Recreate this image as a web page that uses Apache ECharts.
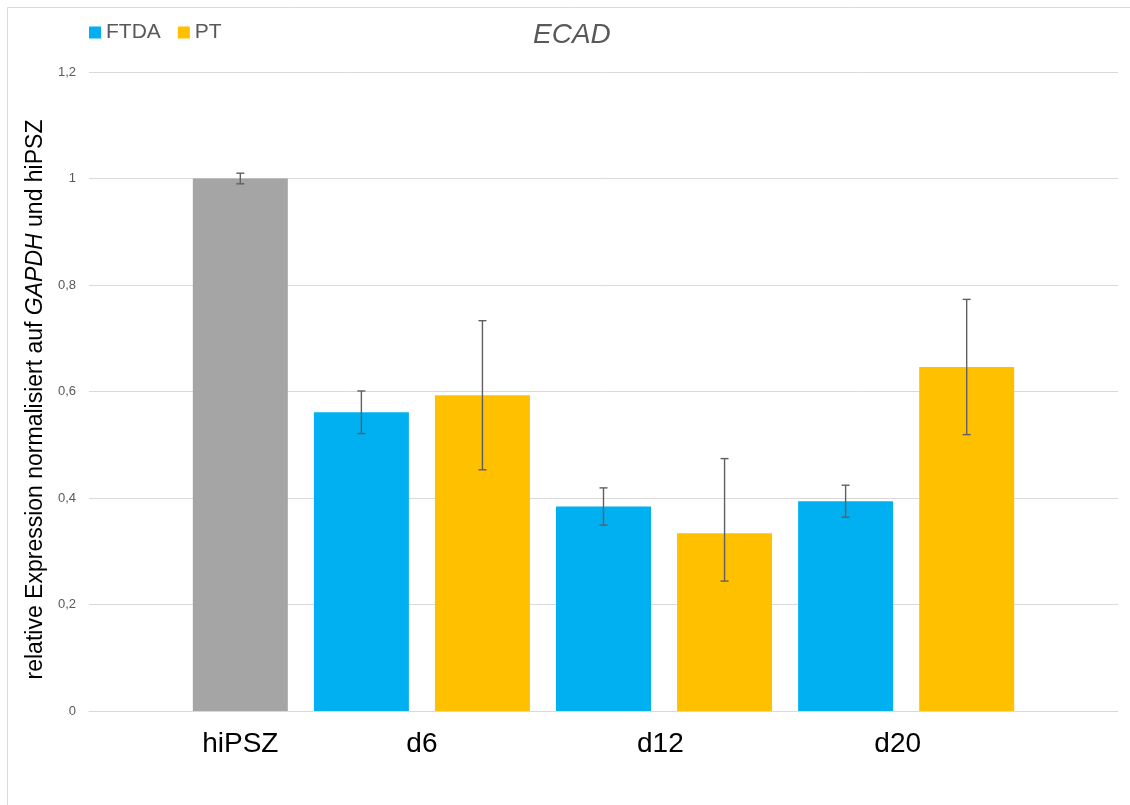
<!DOCTYPE html>
<html>
<head>
<meta charset="utf-8">
<script src="https://cdn.jsdelivr.net/npm/echarts@6/dist/echarts.min.js"></script>
<style>
html,body{margin:0;padding:0;background:#fff;}
#chart{width:1130px;height:805px;}
</style>
</head>
<body>
<div id="chart"></div>
<script>
// ---- data ----
const groupLabels = ['hiPSZ', 'd6', 'd12', 'd20'];
const timepoints = ['d6', 'd12', 'd20'];
const hipszValue = [1.0];
const hipszErrPlus = [0.01];
const hipszErrMinus = [0.01];
const ftdaValues = [0.561, 0.384, 0.394];
const ftdaErrPlus = [0.04, 0.035, 0.03];
const ftdaErrMinus = [0.04, 0.035, 0.03];
const ptValues = [0.593, 0.334, 0.646];
const ptErrPlus = [0.14, 0.14, 0.127];
const ptErrMinus = [0.14, 0.09, 0.127];
const yTicks = [0, 0.2, 0.4, 0.6, 0.8, 1.0, 1.2];

// ---- layout (slot positions on a hidden value axis) ----
const slot0 = 1.25;
const hipszX = [slot0];
const ftdaX = timepoints.map((_, i) => slot0 + 1 + 2 * i);
const ptX = timepoints.map((_, i) => slot0 + 2 + 2 * i);
const labelX = [slot0, slot0 + 1.5, slot0 + 3.47, slot0 + 5.43];

const errData = [];
hipszValue.forEach((v, i) => errData.push([hipszX[i], v - hipszErrMinus[i], v + hipszErrPlus[i]]));
ftdaValues.forEach((v, i) => errData.push([ftdaX[i], v - ftdaErrMinus[i], v + ftdaErrPlus[i]]));
ptValues.forEach((v, i) => errData.push([ptX[i], v - ptErrMinus[i], v + ptErrPlus[i]]));

function labelFor(v) {
  let best = 0, bd = Infinity;
  labelX.forEach((p, i) => { const d = Math.abs(p - v); if (d < bd) { bd = d; best = i; } });
  return bd < 0.05 ? groupLabels[best] : '';
}

const font = 'Liberation Sans, Arial, sans-serif';
const chart = echarts.init(document.getElementById('chart'));
chart.setOption({
  backgroundColor: '#fff',
  animation: false,
  textStyle: { fontFamily: font },
  graphic: [{
    type: 'rect', silent: true,
    shape: { x: 7.5, y: 7.5, width: 1300, height: 1000 },
    style: { fill: 'none', stroke: '#d9d9d9', lineWidth: 1 }
  }],
  title: {
    text: 'ECAD', left: 533, top: 21, padding: 0,
    textStyle: { fontFamily: font, fontSize: 28, fontStyle: 'italic', fontWeight: 'normal', color: '#595959' }
  },
  legend: {
    data: ['FTDA', 'PT'], left: 89, top: 22, padding: 0,
    icon: 'rect', itemWidth: 12, itemHeight: 12, itemGap: 17,
    textStyle: { fontFamily: font, fontSize: 21, color: '#595959' }
  },
  grid: { left: 89, right: 12, top: 72, bottom: 94, containLabel: false },
  xAxis: {
    type: 'value', min: 0, max: 8.5,
    axisLine: { show: true, lineStyle: { color: '#d9d9d9', width: 1 } },
    axisTick: { show: false, customValues: labelX },
    splitLine: { show: false },
    axisLabel: {
      show: true,
      customValues: labelX,
      showMinLabel: true, showMaxLabel: true, hideOverlap: false,
      formatter: v => labelFor(v),
      fontFamily: font, fontSize: 28, color: '#000', margin: 19
    }
  },
  yAxis: {
    type: 'value', min: yTicks[0], max: yTicks[yTicks.length - 1], interval: 0.2,
    name: 'relative Expression normalisiert auf {i|GAPDH} und hiPSZ',
    nameLocation: 'middle', nameGap: 26,
    nameTextStyle: {
      fontFamily: font, fontSize: 23, color: '#000', padding: [0, 16, 0, 0],
      rich: { i: { fontFamily: font, fontSize: 23, fontStyle: 'italic', color: '#000' } }
    },
    axisLine: { show: false }, axisTick: { show: false },
    splitLine: { show: true, lineStyle: { color: '#d9d9d9', width: 1 } },
    axisLabel: {
      fontFamily: font, fontSize: 13, color: '#595959', margin: 13,
      formatter: v => String(Math.round(v * 10) / 10).replace('.', ',')
    }
  },
  series: [
    {
      name: 'hiPSZ', type: 'bar', barWidth: 95, barGap: '-100%',
      itemStyle: { color: '#a5a5a5' },
      data: hipszValue.map((v, i) => [hipszX[i], v])
    },
    {
      name: 'FTDA', type: 'bar', barWidth: 95, barGap: '-100%',
      itemStyle: { color: '#00b0f0' },
      data: ftdaValues.map((v, i) => [ftdaX[i], v])
    },
    {
      name: 'PT', type: 'bar', barWidth: 95, barGap: '-100%',
      itemStyle: { color: '#ffc000' },
      data: ptValues.map((v, i) => [ptX[i], v])
    },
    {
      name: 'err', type: 'custom', z: 10,
      encode: { x: 0, y: [1, 2] },
      data: errData,
      renderItem: (params, api) => {
        const x = api.value(0);
        const lo = api.coord([x, api.value(1)]);
        const hi = api.coord([x, api.value(2)]);
        const hw = 4;
        const st = { stroke: '#5f5f5f', lineWidth: 1.4 };
        return {
          type: 'group',
          children: [
            { type: 'line', shape: { x1: hi[0], y1: hi[1], x2: lo[0], y2: lo[1] }, style: st },
            { type: 'line', shape: { x1: hi[0] - hw, y1: hi[1], x2: hi[0] + hw, y2: hi[1] }, style: st },
            { type: 'line', shape: { x1: lo[0] - hw, y1: lo[1], x2: lo[0] + hw, y2: lo[1] }, style: st }
          ]
        };
      }
    }
  ]
});
</script>
</body>
</html>
